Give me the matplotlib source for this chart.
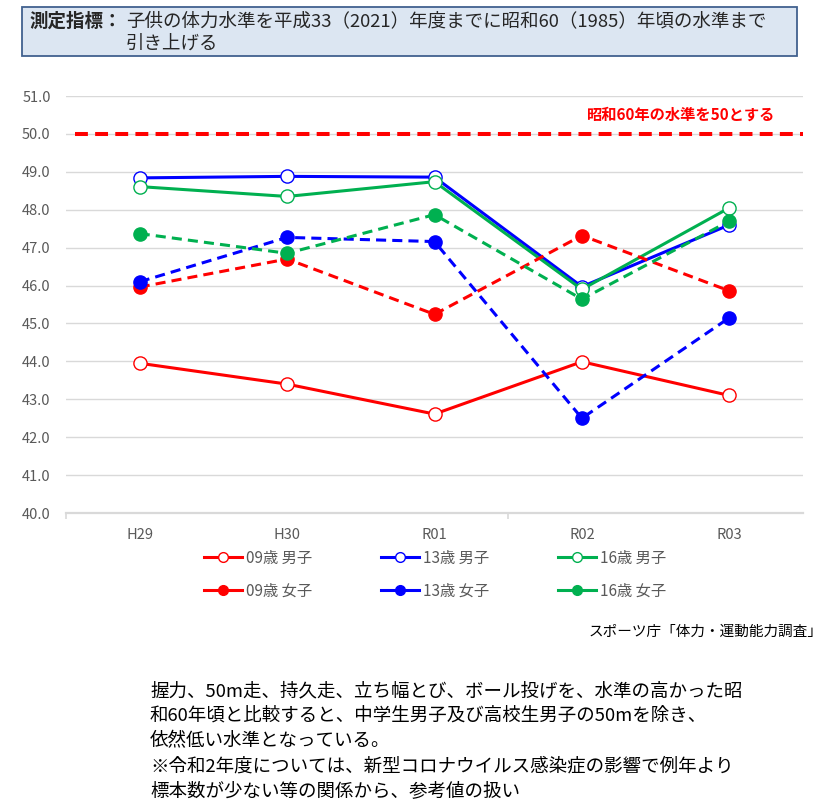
import matplotlib
matplotlib.use("Agg")
import matplotlib.pyplot as plt
from matplotlib.lines import Line2D
from matplotlib.patches import Rectangle

plt.rcParams['font.family'] = ['Noto Sans CJK JP', 'DejaVu Sans']

# ==================== Data ====================

YEARS = ['H29', 'H30', 'R01', 'R02', 'R03']

BOYS_09  = [43.95, 43.40, 42.61, 43.99, 43.10]
BOYS_13  = [48.84, 48.88, 48.86, 45.97, 47.60]
BOYS_16  = [48.61, 48.35, 48.74, 45.90, 48.05]
GIRLS_09 = [45.96, 46.70, 45.24, 47.32, 45.86]
GIRLS_13 = [46.10, 47.27, 47.16, 42.50, 45.15]
GIRLS_16 = [47.37, 46.85, 47.87, 45.64, 47.70]

SERIES_LABELS = ['09歳 男子', '13歳 男子', '16歳 男子',
                 '09歳 女子', '13歳 女子', '16歳 女子']

BASELINE = 50.0
BASELINE_LABEL = '昭和60年の水準を50とする'

TITLE_HEAD = '測定指標：'
TITLE_LINES = ['子供の体力水準を平成33（2021）年度までに昭和60（1985）年頃の水準まで',
               '引き上げる']
SOURCE = 'スポーツ庁「体力・運動能力調査」'
NOTE_LINES = [
    '握力、50m走、持久走、立ち幅とび、ボール投げを、水準の高かった昭',
    '和60年頃と比較すると、中学生男子及び高校生男子の50mを除き、',
    '依然低い水準となっている。',
    '※令和2年度については、新型コロナウイルス感染症の影響で例年より',
    '標本数が少ない等の関係から、参考値の扱い',
]

RED, BLUE, GREEN = '#FF0000', '#0000FF', '#00B050'
GRAY_TEXT = '#595959'

# ==================== Figure ====================

W, H = 830, 807
fig = plt.figure(figsize=(W / 100, H / 100), dpi=100)


def fx(px):
    return px / W


def fy(py):
    return 1 - py / H


# title box
fig.patches.append(Rectangle((fx(22), fy(56)), fx(797) - fx(22), fy(7) - fy(56),
                             transform=fig.transFigure, facecolor='#DCE6F2',
                             edgecolor='#41618F', linewidth=1.3))
fig.text(fx(30), fy(21), TITLE_HEAD, fontsize=13.3, fontweight='bold',
         color='#262626', va='center')
fig.text(fx(126), fy(21), TITLE_LINES[0], fontsize=13.3, color='#262626', va='center')
fig.text(fx(126), fy(44), TITLE_LINES[1], fontsize=13.3, color='#262626', va='center')

ax = fig.add_axes([fx(66), fy(513), fx(803) - fx(66), fy(96) - fy(513)])

x = list(range(len(YEARS)))
solid = dict(linewidth=2.2, markersize=9.5, marker='o', markeredgewidth=1.0,
             markerfacecolor='white')
dashed = dict(linewidth=2.2, markersize=9.5, marker='o', linestyle=(0, (3.3, 2.0)))

ax.plot(x, BOYS_09, color=RED, markeredgecolor=RED, **solid)
ax.plot(x, BOYS_13, color=BLUE, markeredgecolor=BLUE, **solid)
ax.plot(x, BOYS_16, color=GREEN, markeredgecolor=GREEN, **solid)
ax.plot(x, GIRLS_09, color=RED, **dashed)
ax.plot(x, GIRLS_13, color=BLUE, **dashed)
ax.plot(x, GIRLS_16, color=GREEN, **dashed)

ax.axhline(BASELINE, xmin=0.012, xmax=1.0, color=RED, linewidth=2.9,
           linestyle=(0, (3.2, 1.8)), zorder=1.5)
ax.text(0.962, BASELINE + 0.5, BASELINE_LABEL, transform=ax.get_yaxis_transform(),
        ha='right', va='center', color=RED, fontsize=11, fontweight='bold')

ax.set_xlim(-0.5, len(YEARS) - 0.5)
ax.set_ylim(40, 51)
ax.set_yticks([40 + i for i in range(12)])
ax.set_yticklabels([f'{40 + i:.1f}' for i in range(12)])
ax.set_xticks(x)
ax.set_xticklabels(YEARS)
ax.set_xticks([-0.5, 2.5], minor=True)
ax.tick_params(axis='both', which='major', length=0, labelsize=10.5, labelcolor=GRAY_TEXT)
ax.tick_params(axis='x', which='major', pad=11)
ax.tick_params(axis='y', which='major', pad=11)
ax.tick_params(axis='x', which='minor', length=4, color='#D9D9D9', width=1.2)
ax.grid(axis='y', color='#D9D9D9', linewidth=1.0)
ax.set_axisbelow(True)
for side in ['top', 'right', 'left']:
    ax.spines[side].set_visible(False)
ax.spines['bottom'].set_color('#D9D9D9')
ax.spines['bottom'].set_linewidth(1.6)

# legend: solid handle lines, column-major order for ncol=3
colors = [RED, BLUE, GREEN]
handles, labels = [], []
for i, c in enumerate(colors):
    handles.append(Line2D([], [], color=c, linewidth=2.2, marker='o', markersize=7,
                          markerfacecolor='white', markeredgecolor=c, markeredgewidth=1.0))
    labels.append(SERIES_LABELS[i])
    handles.append(Line2D([], [], color=c, linewidth=2.2, marker='o', markersize=7))
    labels.append(SERIES_LABELS[i + 3])
fig.legend(handles=handles, labels=labels, ncol=3,
           loc='upper left', bbox_to_anchor=(fx(190), fy(536)), frameon=False,
           fontsize=11, handlelength=2.5, handletextpad=0.25, columnspacing=4.5,
           labelspacing=1.05, labelcolor=GRAY_TEXT)

fig.text(fx(823), fy(632), SOURCE, fontsize=10.5, ha='right', va='center', color='black')

for i, line in enumerate(NOTE_LINES):
    fig.text(fx(150), fy(691 + i * 25), line, fontsize=13.3, va='center', color='black')

fig.savefig('out.png', dpi=100)
